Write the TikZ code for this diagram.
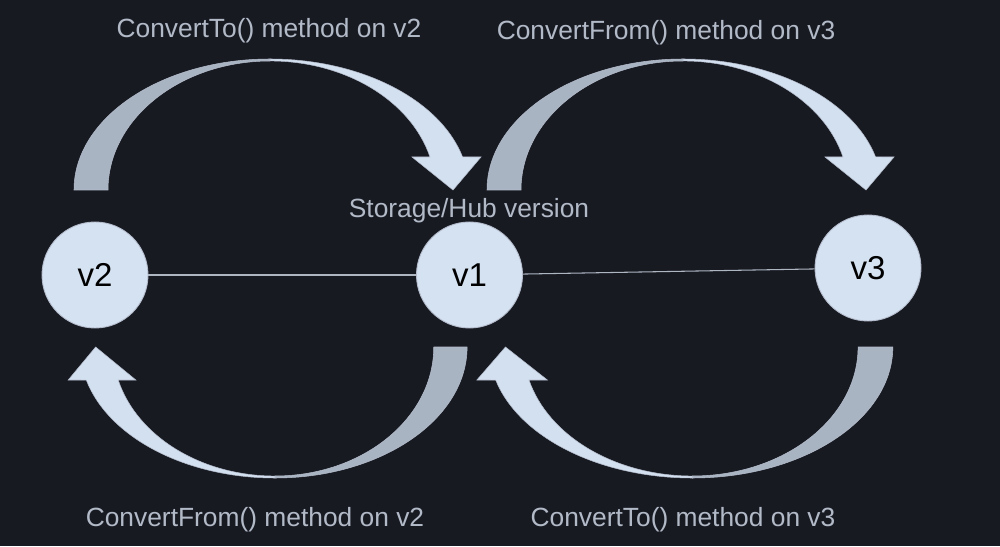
\documentclass[tikz,border=0pt]{standalone}
\usepackage{fontspec}
\setmainfont{Liberation Sans}
\usetikzlibrary{positioning}

\definecolor{bgdark}{HTML}{181A22}
\definecolor{arrowfront}{HTML}{D3E0F0}
\definecolor{arrowback}{HTML}{A9B4C2}
\definecolor{arrowedge}{HTML}{B4BCCC}
\definecolor{labelgray}{HTML}{B2BAC8}
\definecolor{circlefill}{HTML}{D5E2F2}
\definecolor{linegray}{HTML}{AEB6C2}

\tikzset{
  version/.style={circle, draw=arrowedge, line width=0.5pt, fill=circlefill,
    minimum size=106*0.2mm, inner sep=0pt, text=black,
    font=\fontsize{18.8}{22}\selectfont},
  methodlabel/.style={text=labelgray, font=\fontsize{15}{18}\selectfont, inner sep=0pt},
  pics/convarrow/.style={code={
    % back half of the curved arrow
    \filldraw[fill=arrowback, draw=arrowedge, line width=0.3pt]
      (-196,0) arc[start angle=180, end angle=90, x radius=196, y radius=131]
      -- (0,129) arc[start angle=90, end angle=180, x radius=162, y radius=129]
      -- cycle;
    % front half with the head
    \filldraw[fill=arrowfront, draw=arrowedge, line width=0.3pt]
      (0,131) arc[start angle=90, end angle=14.6, x radius=199, y radius=131]
      -- (211,33) -- (183,0) -- (142,33) -- (160,33)
      arc[start angle=14.8, end angle=90, x radius=165.5, y radius=129]
      -- cycle;
  }}
}

\begin{document}
\begin{tikzpicture}[x=0.2mm, y=0.2mm]

% background
\fill[bgdark] (0,0) rectangle (1000,546);
\useasboundingbox (0,0) rectangle (1000,546);

% curved arrows
\pic at (270,356) {convarrow};
\pic at (683,356) {convarrow};
\pic[rotate=180, xscale=0.98] at (275,199) {convarrow};
\pic[rotate=180, xscale=1.022] at (692.5,199) {convarrow};

% versions
\node[version] (v2) at (95,271) {v2};
\node[version] (v1) at (469.5,271) {v1};
\node[version] (v3) at (868,278) {v3};

% links between versions
\draw[linegray, line width=0.6pt] (v2) -- (v1);
\draw[linegray, line width=0.6pt] (v1) -- (v3);

% labels
\node[methodlabel] (totwo) at (269,515) {ConvertTo() method on v2};
\node[methodlabel] (fromthree) at (666,513) {ConvertFrom() method on v3};
\node[methodlabel] (hub) at (469,335) {Storage/Hub version};
\node[methodlabel] (fromtwo) at (255,26) {ConvertFrom() method on v2};
\node[methodlabel] (tothree) at (683,26) {ConvertTo() method on v3};
\end{tikzpicture}
\end{document}
